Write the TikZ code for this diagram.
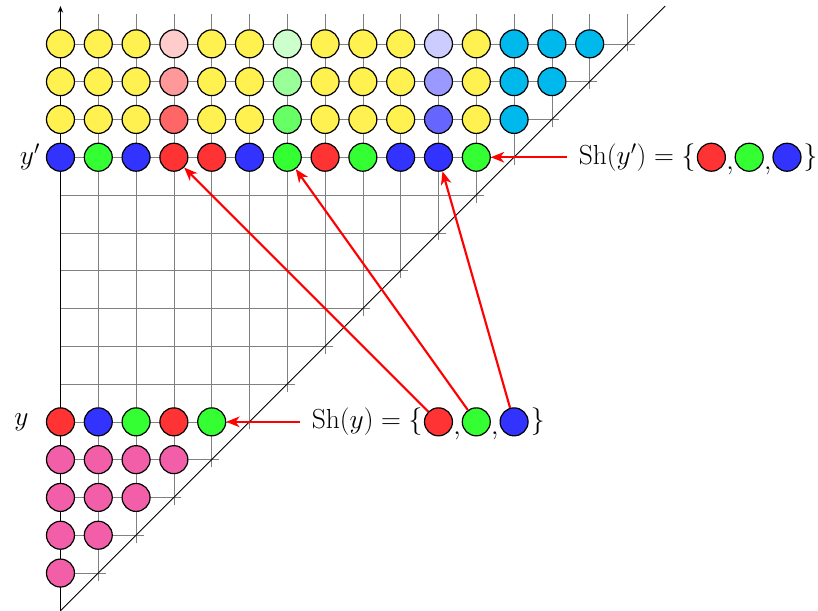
\documentclass[tikz,border=0pt]{standalone}
\usepackage{amsmath}
\usepackage{xcolor}
\usepackage{tikz}
\usetikzlibrary{arrows.meta,positioning}
\definecolor{dotpink}{HTML}{F25FA8}
\definecolor{dotyellow}{HTML}{FFF150}
\definecolor{dotcyan}{HTML}{00B9EC}
\colorlet{dotred}{red!80}
\colorlet{dotgreen}{green!80}
\colorlet{dotblue}{blue!80}

\begin{document}
\begin{tikzpicture}[
    dot/.style={circle,draw=black,line width=0.9pt,minimum size=0.74cm,inner sep=0pt},
    gridline/.style={gray,line width=0.5pt},
    shiftarrow/.style={red,line width=1.6pt,-{Stealth[length=10pt,width=8pt,inset=3pt]}},
    lbl/.style={font=\fontsize{20}{24}\selectfont,inner sep=0pt},
    sep/.style={lbl,anchor=base west,yshift=-4pt}]
    \useasboundingbox (-1.6,0) rectangle (20.04,16.16);
    \foreach \j in {1,...,15} \draw[gridline] (0,\j) -- (\j+0.2,\j);
    \foreach \i in {1,...,15} \draw[gridline] (\i,\i-0.2) -- (\i,15.8);
    \draw[line width=0.7pt] (0,0) -- (16,16);
    \draw[line width=1.2pt,-{Stealth[length=5pt,width=4pt]}] (0,0) -- (0,16);
    \foreach \n in {1,...,4} {
      \pgfmathtruncatemacro\last{\n-1}
      \foreach \i in {0,...,\last} \node[dot,fill=dotpink] (c-\i-\n) at (\i,\n) {};
    }
    \foreach \c [count=\i from 0] in {dotred,dotblue,dotgreen,dotred,dotgreen}
      \node[dot,fill=\c] (c-\i-5) at (\i,5) {};
    \foreach \c [count=\i from 0] in {dotblue,dotgreen,dotblue,dotred,dotred,dotblue,dotgreen,dotred,dotgreen,dotblue,dotblue,dotgreen}
      \node[dot,fill=\c] (c-\i-12) at (\i,12) {};
    \foreach \r/\t in {13/60,14/40,15/20} {
      \pgfmathtruncatemacro\last{\r-1}
      \foreach \i in {0,...,\last} {
        \ifnum\i=3 \def\c{red!\t}\else\ifnum\i=6 \def\c{green!\t}\else
        \ifnum\i=10 \def\c{blue!\t}\else\ifnum\i>11 \def\c{dotcyan}\else
        \def\c{dotyellow}\fi\fi\fi\fi
        \node[dot,fill=\c] (c-\i-\r) at (\i,\r) {};
      }
    }
    \node[lbl,left=0.45 of c-0-5] (ylbl) {$y$};
    \node[lbl,left=0.15 of c-0-12] (yplbl) {$y'$};
    \node[dot,fill=dotred] (shy-r) at (10,5) {};
    \node[dot,fill=dotgreen] (shy-g) at (11,5) {};
    \node[dot,fill=dotblue] (shy-b) at (12,5) {};
    \node[lbl,left=0.03 of shy-r] (shy) {$\mathrm{Sh}(y)=\{$};
    \node[lbl,right=0.05 of shy-b] (shy-end) {$\}$};
    \node[sep] at (shy-r.east |- shy.base) {$,$};
    \node[sep] at (shy-g.east |- shy.base) {$,$};
    \node[dot,fill=dotred] (shyp-r) at (17.22,12) {};
    \node[dot,fill=dotgreen] (shyp-g) at (18.22,12) {};
    \node[dot,fill=dotblue] (shyp-b) at (19.22,12) {};
    \node[lbl,left=0.03 of shyp-r] (shyp) {$\mathrm{Sh}(y')=\{$};
    \node[lbl,right=0.05 of shyp-b] (shyp-end) {$\}$};
    \node[sep] at (shyp-r.east |- shyp.base) {$,$};
    \node[sep] at (shyp-g.east |- shyp.base) {$,$};
    \draw[shiftarrow,shorten <=9pt] (c-4-5 -| shy.west) -- (c-4-5);
    \draw[shiftarrow,shorten <=9pt] (c-11-12 -| shyp.west) -- (c-11-12);
    \draw[shiftarrow] (shy-r) -- (c-3-12);
    \draw[shiftarrow] (shy-g) -- (c-6-12);
    \draw[shiftarrow] (shy-b) -- (c-10-12);
  \end{tikzpicture}
\end{document}
